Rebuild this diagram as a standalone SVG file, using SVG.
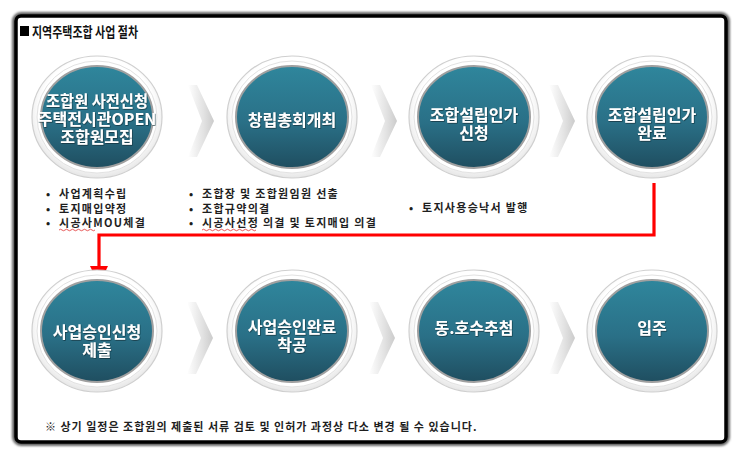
<svg xmlns="http://www.w3.org/2000/svg" width="743" height="459" viewBox="0 0 743 459">
<defs>
<radialGradient id="ring" cx="50%" cy="45%" r="55%">
<stop offset="0.8" stop-color="#ffffff"/>
<stop offset="1" stop-color="#e6e6e6"/>
</radialGradient>
<linearGradient id="teal" x1="0" y1="0" x2="0" y2="1">
<stop offset="0" stop-color="#2f869c"/>
<stop offset="0.55" stop-color="#2a7087"/>
<stop offset="1" stop-color="#1f4e60"/>
</linearGradient>
<linearGradient id="chev" x1="0" y1="0" x2="1" y2="0">
<stop offset="0" stop-color="#ffffff"/>
<stop offset="0.6" stop-color="#e2e2e2"/>
<stop offset="1" stop-color="#cbcbcb"/>
</linearGradient>
<filter id="sh" x="-10%" y="-10%" width="120%" height="130%">
<feDropShadow dx="0.6" dy="0.8" stdDeviation="0.6" flood-color="#0b2a35" flood-opacity="0.8"/>
</filter>
<filter id="blur"><feGaussianBlur stdDeviation="1"/></filter>
<path id="chevron" d="M0,0 L9,0 L26,36 L9,72 L0,72 L14,36 Z"/>
<g id="bubble">
<ellipse rx="65" ry="61" fill="url(#ring)" stroke="#cfcfcf" stroke-width="1.2"/>
<ellipse rx="60" ry="56" fill="#ffffff" stroke="#e2e2e2" stroke-width="1"/>
<ellipse rx="56" ry="51" fill="url(#teal)" stroke="#a0a0a0" stroke-width="2"/>
</g>
</defs>
<style>
.ct{font-family:"Noto Sans CJK KR","Noto Sans",sans-serif;font-size:16px;font-weight:bold;fill:#ffffff;text-anchor:middle}
.bt{font-family:"Noto Sans CJK KR","Noto Sans",sans-serif;font-size:11px;font-weight:bold;fill:#1e1e1e;letter-spacing:1.3px}
.fn{font-family:"Noto Sans CJK KR","Noto Sans",sans-serif;font-size:11px;font-weight:bold;fill:#1e1e1e;letter-spacing:1px}
.ti{font-family:"Noto Sans CJK KR","Noto Sans",sans-serif;font-size:14px;font-weight:bold;fill:#111111}
.sq{fill:none;stroke:#e03030;stroke-width:0.8}
</style>
<rect width="743" height="459" fill="#ffffff"/>
<g id="frame">
<rect x="15" y="15" width="712" height="428" rx="6" fill="none" stroke="#666" stroke-width="6" filter="url(#blur)"/>
<rect x="16" y="16" width="710" height="426" rx="5" fill="#ffffff" stroke="#000000" stroke-width="3.5"/>
</g>
<g id="title">
<rect x="20" y="26" width="9" height="10" fill="#000"/>
<text class="ti" x="32" y="36.5" textLength="106" lengthAdjust="spacingAndGlyphs">지역주택조합 사업 절차</text>
</g>
<g id="chevrons" fill="url(#chev)">
<use href="#chevron" x="188" y="85"/>
<use href="#chevron" x="371" y="85"/>
<use href="#chevron" x="549" y="85"/>
<use href="#chevron" x="187" y="302"/>
<use href="#chevron" x="369" y="302"/>
<use href="#chevron" x="549" y="302"/>
</g>
<g id="connectors">
<path d="M654,183 V235 H99 V268" fill="none" stroke="#ff0000" stroke-width="3.2"/>
<polygon points="90,266 108,266 99,285" fill="#ff0000"/>
</g>
<g id="n1" transform="translate(97,117)">
<use href="#bubble"/>
<g filter="url(#sh)">
<text class="ct" x="0" y="-10" textLength="102" lengthAdjust="spacingAndGlyphs">조합원 사전신청</text>
<text class="ct" x="0" y="8">주택전시관OPEN</text>
<text class="ct" x="0" y="26">조합원모집</text>
</g>
</g>
<g id="n2" transform="translate(292,117)">
<use href="#bubble"/>
<text class="ct" x="0" y="8.5" filter="url(#sh)">창립총회개최</text>
</g>
<g id="n3" transform="translate(474,117)">
<use href="#bubble"/>
<g filter="url(#sh)">
<text class="ct" x="0" y="3.5">조합설립인가</text>
<text class="ct" x="0" y="21.5">신청</text>
</g>
</g>
<g id="n4" transform="translate(652,117)">
<use href="#bubble"/>
<g filter="url(#sh)">
<text class="ct" x="0" y="3.5">조합설립인가</text>
<text class="ct" x="0" y="21.5">완료</text>
</g>
</g>
<g id="n5" transform="translate(97,331)">
<use href="#bubble"/>
<g filter="url(#sh)">
<text class="ct" x="0" y="6.5">사업승인신청</text>
<text class="ct" x="0" y="24.5">제출</text>
</g>
</g>
<g id="n6" transform="translate(292,331)">
<use href="#bubble"/>
<g filter="url(#sh)">
<text class="ct" x="0" y="1.5">사업승인완료</text>
<text class="ct" x="0" y="19.5">착공</text>
</g>
</g>
<g id="n7" transform="translate(474,331)">
<use href="#bubble"/>
<text class="ct" x="0" y="2.5" filter="url(#sh)">동.호수추첨</text>
</g>
<g id="n8" transform="translate(652,331)">
<use href="#bubble"/>
<text class="ct" x="0" y="2.5" filter="url(#sh)">입주</text>
</g>
<g id="notes1">
<text class="bt" x="46" y="198">•</text><text class="bt" x="59" y="198">사업계획수립</text>
<text class="bt" x="46" y="212.5">•</text><text class="bt" x="59" y="212.5">토지매입약정</text>
<text class="bt" x="46" y="227">•</text><text class="bt" x="59" y="227">시공사MOU체결</text>
<path class="sq" d="M59,230 q1.5,-1.5 3,0 t3,0 t3,0 t3,0 t3,0 t3,0 t3,0 t3,0 t3,0 t3,0 t3,0 t3,0"/>
</g>
<g id="notes2">
<text class="bt" x="189" y="198">•</text><text class="bt" x="202" y="198">조합장 및 조합원임원 선출</text>
<text class="bt" x="189" y="212.5">•</text><text class="bt" x="202" y="212.5">조합규약의결</text>
<text class="bt" x="189" y="227">•</text><text class="bt" x="202" y="227">시공사선정 의결 및 토지매입 의결</text>
<path class="sq" d="M202,230 q1.5,-1.5 3,0 t3,0 t3,0 t3,0 t3,0 t3,0 t3,0 t3,0 t3,0 t3,0 t3,0 t3,0 t3,0 t3,0 t3,0 t3,0 t3,0 t3,0"/>
</g>
<g id="notes3">
<text class="bt" x="409" y="212">•</text><text class="bt" x="422" y="212">토지사용승낙서 발행</text>
</g>
<g id="footnote">
<text class="fn" x="45" y="431">※ 상기 일정은 조합원의 제출된 서류 검토 및 인허가 과정상 다소 변경 될 수 있습니다.</text>
</g>
</svg>
